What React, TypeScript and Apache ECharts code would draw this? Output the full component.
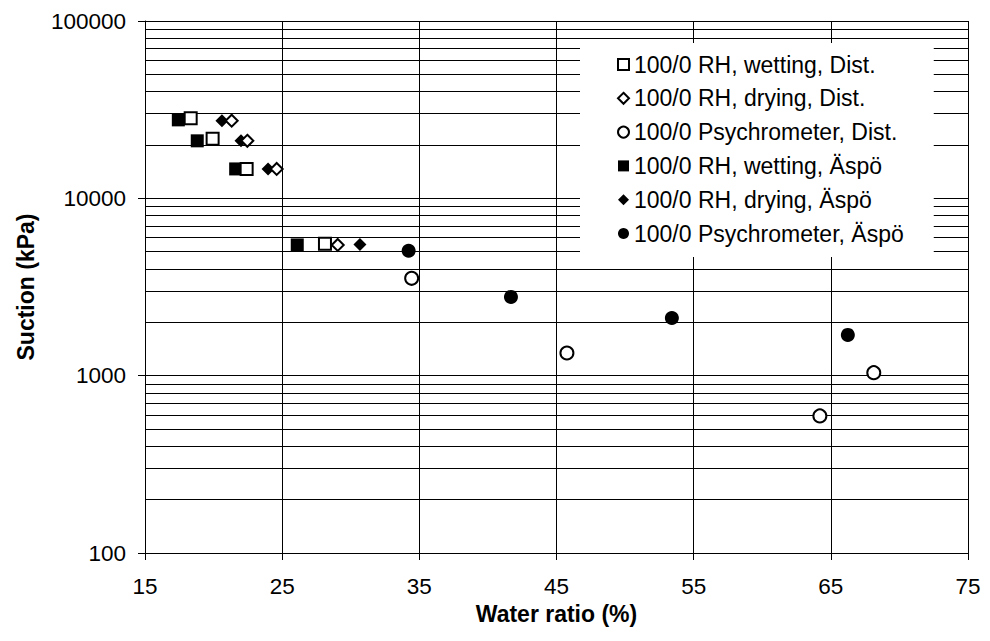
import React, { useEffect, useRef } from "react";
import * as echarts from "echarts";

const seriesNames = [
  "100/0 RH, wetting, Dist.",
  "100/0 RH, drying, Dist.",
  "100/0 Psychrometer, Dist.",
  "100/0 RH, wetting, Äspö",
  "100/0 RH, drying, Äspö",
  "100/0 Psychrometer, Äspö",
];

// water ratio (%) / suction (kPa)
const wetDistX = [18.33, 19.93, 22.41, 28.12];
const wetDistY = [28300, 21700, 14650, 5550];
const dryDistX = [21.32, 22.46, 24.6, 29.05];
const dryDistY = [27400, 21100, 14650, 5460];
const psyDistX = [34.44, 45.76, 64.2, 68.13];
const psyDistY = [3540, 1343, 593, 1040];
const wetAspoX = [17.43, 18.81, 21.61, 26.1];
const wetAspoY = [27700, 21100, 14650, 5460];
const dryAspoX = [20.61, 22.0, 23.97, 30.67];
const dryAspoY = [27400, 21100, 14650, 5500];
const psyAspoX = [34.22, 41.68, 53.41, 66.24];
const psyAspoY = [5060, 2780, 2115, 1697];

const xMin = 15;
const xMax = 75;
const xStep = 10;
const yMin = 100;
const yMax = 100000;
const minorGridValues = [
  200, 300, 400, 500, 600, 700, 800, 900,
  2000, 3000, 4000, 5000, 6000, 7000, 8000, 9000,
  20000, 30000, 40000, 50000, 60000, 70000, 80000, 90000,
];

const FONT = "'Liberation Sans', Arial, sans-serif";

function pairs(xs: number[], ys: number[]) {
  return xs.map((x, i) => [x, ys[i]]);
}

export default function App() {
  const ref = useRef<HTMLDivElement>(null);
  useEffect(() => {
    if (!ref.current) return;
    const chart = echarts.init(ref.current, undefined, { renderer: "svg" });
    const openStyle = { color: "#fff", borderColor: "#000", borderWidth: 2, opacity: 1 };
    const fillStyle = { color: "#000", borderColor: "#000", borderWidth: 0, opacity: 1 };
    const mk = (name: string, data: number[][], symbol: string, size: number, style: any, z: number) => ({
      name,
      type: "scatter",
      data,
      symbol,
      symbolSize: size,
      itemStyle: style,
      z,
      silent: true,
    });
    const s0: any = mk(seriesNames[0], pairs(wetDistX, wetDistY), "rect", 12, openStyle, 3);
    s0.markLine = {
      silent: true,
      symbol: ["none", "none"],
      label: { show: false },
      lineStyle: { color: "#000", width: 1, type: "solid", opacity: 1 },
      data: minorGridValues.map((v) => ({ yAxis: v })),
      z: 1,
    };
    chart.setOption({
      animation: false,
      backgroundColor: "#fff",
      textStyle: { fontFamily: FONT },
      grid: { left: 145, right: 22, top: 21, bottom: 88, containLabel: false },
      legend: {
        orient: "vertical",
        left: 580,
        top: 43,
        padding: [10, 30, 12, 37],
        itemGap: 10.8,
        itemWidth: 11,
        itemHeight: 11,
        backgroundColor: "#fff",
        textStyle: { fontSize: 23, fontFamily: FONT, color: "#000", lineHeight: 23 },
        data: seriesNames,
        z: 10,
      },
      xAxis: {
        type: "value",
        min: xMin,
        max: xMax,
        interval: xStep,
        name: "Water ratio (%)",
        nameLocation: "middle",
        nameGap: 46,
        nameTextStyle: { fontSize: 23, fontWeight: "bold", color: "#000", fontFamily: FONT },
        axisLine: { show: true, lineStyle: { color: "#000", width: 1 } },
        axisTick: { show: true, inside: false, length: 7, lineStyle: { color: "#000" } },
        axisLabel: { fontSize: 22.5, color: "#000", margin: 22, fontFamily: FONT },
        splitLine: { show: true, lineStyle: { color: "#000", width: 1 } },
      },
      yAxis: {
        type: "log",
        logBase: 10,
        min: yMin,
        max: yMax,
        name: "Suction (kPa)",
        nameLocation: "middle",
        nameGap: 108,
        nameTextStyle: { fontSize: 23, fontWeight: "bold", color: "#000", fontFamily: FONT },
        axisLine: { show: true, lineStyle: { color: "#000", width: 1 } },
        axisTick: { show: true, inside: false, length: 7, lineStyle: { color: "#000" } },
        axisLabel: { fontSize: 22.5, color: "#000", margin: 19, fontFamily: FONT, formatter: (v: number) => String(v) },
        splitLine: { show: true, lineStyle: { color: "#000", width: 1 } },
        minorTick: { show: false },
        minorSplitLine: { show: false },
      },
      series: [
        s0,
        mk(seriesNames[1], pairs(dryDistX, dryDistY), "diamond", 12, openStyle, 3),
        mk(seriesNames[2], pairs(psyDistX, psyDistY), "circle", 13, openStyle, 3),
        mk(seriesNames[3], pairs(wetAspoX, wetAspoY), "rect", 13, fillStyle, 2),
        mk(seriesNames[4], pairs(dryAspoX, dryAspoY), "diamond", 13, fillStyle, 2),
        mk(seriesNames[5], pairs(psyAspoX, psyAspoY), "circle", 14, fillStyle, 2),
      ],
    });
    return () => chart.dispose();
  }, []);
  return (
    <div
      ref={ref}
      style={{ position: "fixed", left: 0, top: 0, width: 990, height: 641, background: "#fff" }}
    />
  );
}
